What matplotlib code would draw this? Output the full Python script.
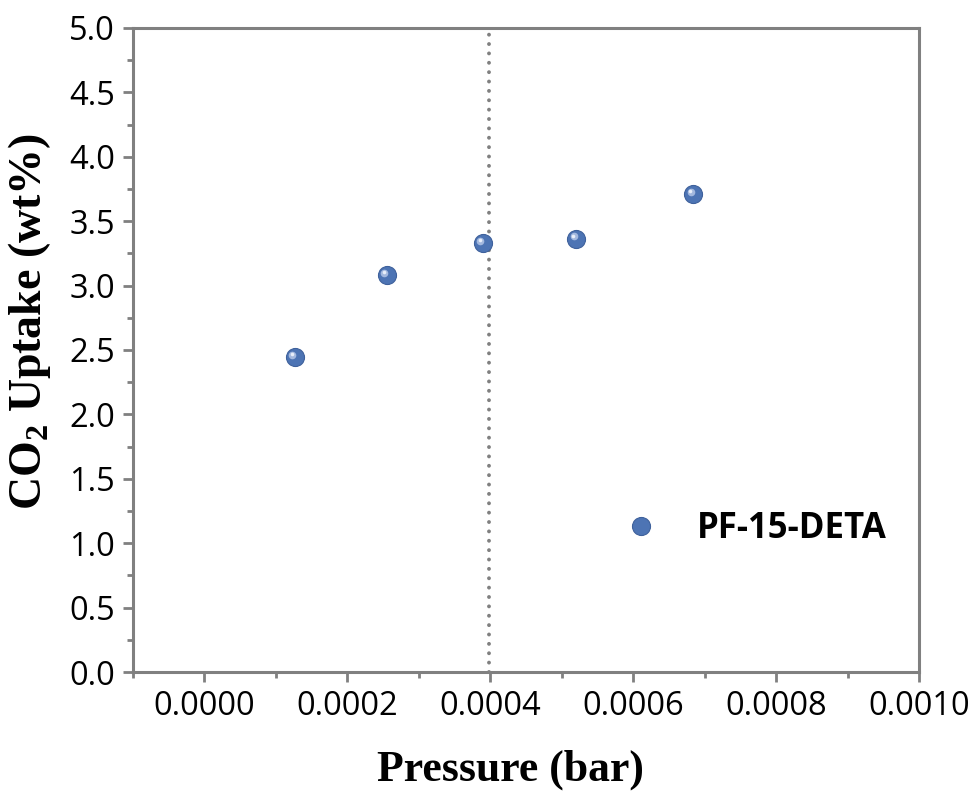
import matplotlib
matplotlib.use("Agg")
import matplotlib.pyplot as plt
from matplotlib.ticker import MultipleLocator, FormatStrFormatter
from matplotlib.transforms import offset_copy

# datos
presion = [0.0001263, 0.000255, 0.0003896, 0.0005206, 0.0006843]
captura = [2.443, 3.082, 3.328, 3.362, 3.709]
serie = "PF-15-DETA"
presion_ref = 0.000398

plt.rcParams['mathtext.fontset'] = 'custom'
plt.rcParams['mathtext.rm'] = 'Liberation Serif:bold'
plt.rcParams['mathtext.bf'] = 'Liberation Serif:bold'

gris = '#808080'
azul = '#4d74b4'

fig = plt.figure(figsize=(9.76, 7.95), dpi=100)
ax = fig.add_axes([0.1363, 0.1547, 0.8053, 0.8101])

# linea vertical punteada
ax.axvline(presion_ref, color=gris, lw=2.8, linestyle=(0, (0.01, 2.4)),
           dash_capstyle='round', zorder=1)

# esferas: base + brillo
ax.plot(presion, captura, 'o', ms=13, color=azul, mec='#3f619c', mew=0.8,
        ls='none', label=serie, zorder=3)
brillo = offset_copy(ax.transData, fig=fig, x=-2.5, y=2.5, units='dots')
ax.plot(presion, captura, 'o', ms=5.5, color='#a3b8de', mec='none',
        ls='none', transform=brillo, zorder=4)
brillo2 = offset_copy(ax.transData, fig=fig, x=-3, y=3, units='dots')
ax.plot(presion, captura, 'o', ms=2.6, color='#e8eef9', mec='none',
        ls='none', transform=brillo2, zorder=5)

ax.set_xlim(-0.0001, 0.001)
ax.set_ylim(0, 5.0)
ax.xaxis.set_major_locator(MultipleLocator(0.0002))
ax.xaxis.set_minor_locator(MultipleLocator(0.0001))
ax.yaxis.set_major_locator(MultipleLocator(0.5))
ax.yaxis.set_minor_locator(MultipleLocator(0.25))
ax.xaxis.set_major_formatter(FormatStrFormatter('%.4f'))
ax.yaxis.set_major_formatter(FormatStrFormatter('%.1f'))

for s in ax.spines.values():
    s.set_color(gris)
    s.set_linewidth(2.2)

ax.tick_params(which='major', direction='out', length=7, width=2, color=gris,
               labelsize=23.5, pad=6)
ax.tick_params(which='minor', direction='out', length=4, width=2, color=gris)
for lab in ax.get_xticklabels() + ax.get_yticklabels():
    lab.set_fontfamily('Open Sans')
    lab.set_color('black')

ax.set_xlabel('Pressure (bar)', fontfamily='Liberation Serif', fontweight='bold',
              fontsize=31.5, labelpad=12)
ax.xaxis.set_label_coords(0.48, -0.12)
ax.set_ylabel(r'CO$_\mathrm{2}$ Uptake (wt%)', fontfamily='Liberation Serif',
              fontweight='bold', fontsize=33, labelpad=10)
ax.yaxis.set_label_coords(-0.102, 0.545)

ax.legend(loc='center left', bbox_to_anchor=(0.585, 0.222), frameon=False,
          handletextpad=1.1, handlelength=1.0,
          prop={'family': 'Open Sans', 'weight': 'bold', 'size': 25})

fig.savefig('out.png', dpi=100)
